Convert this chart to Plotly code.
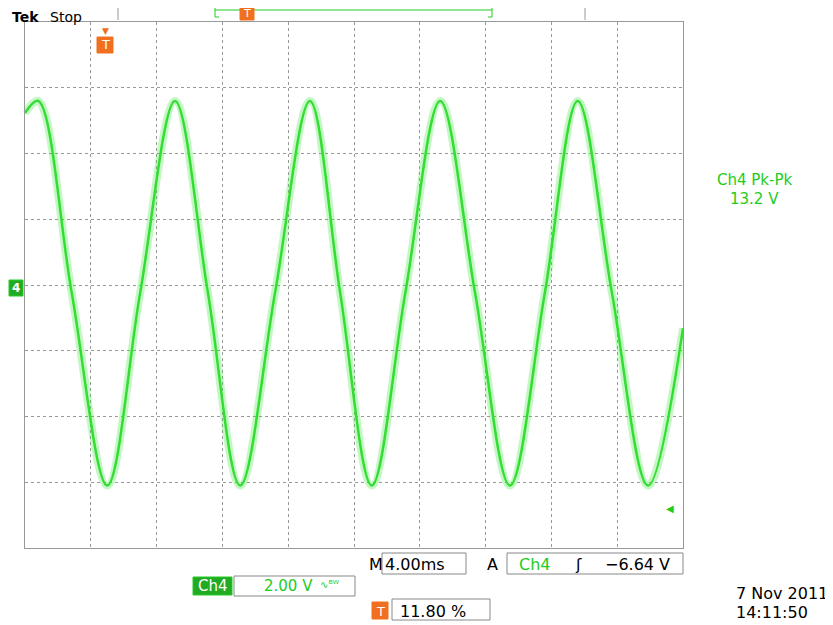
import plotly.graph_objects as go

# waveform key points: time (divisions), volts
t_div = [0, 0.2, 0.71, 1.25, 1.75, 2.28, 2.78, 3.27, 3.80, 4.33, 4.79, 5.27, 5.78, 6.31, 6.84, 7.37, 7.90, 8.40, 8.92, 9.47, 10.0]
volts = [5.23, 5.6, -0.24, -6.1, -0.24, 5.6, -0.24, -6.1, -0.24, 5.6, -0.24, -6.1, -0.24, 5.6, -0.24, -6.1, -0.24, 5.6, -0.24, -6.1, -1.31]

GREEN = "#22cc22"
ORANGE = "#f07020"
# plot area in screen pixels: 25..683 x 22..548 (page has 8px body margin)
PX0, PX1, PY0, PY1 = 25, 683, 22, 548
W, H = 825, 617

fig = go.Figure()
fig.add_trace(go.Scatter(x=t_div, y=volts, mode="lines", line=dict(color="rgba(60,230,60,0.3)", width=8, shape="spline", smoothing=1.0), hoverinfo="skip"))
fig.add_trace(go.Scatter(x=t_div, y=volts, mode="lines", line=dict(color="#33dd33", width=2.5, shape="spline", smoothing=1.0), hoverinfo="skip"))

ax = dict(showgrid=True, gridcolor="#999999", griddash="dot", gridwidth=1, zeroline=False,
          showticklabels=False, ticks="", showline=True, linecolor="#999999", mirror=True, fixedrange=True)
fig.update_xaxes(range=[0, 10], dtick=1, **ax)
fig.update_yaxes(range=[-8, 8], dtick=2, **ax)

def px(x, y):
    return (x - PX0) / (PX1 - PX0), 1 - (y - PY0) / (PY1 - PY0)

shapes = []
def box(x0, y0, x1, y1, color="#888888", fill=None):
    a, b = px(x0, y1); c, d = px(x1, y0)
    shapes.append(dict(type="rect", xref="paper", yref="paper", x0=a, y0=b, x1=c, y1=d,
                       line=dict(color=color, width=1), fillcolor=fill or "rgba(0,0,0,0)"))
def vline(x, y0, y1, color="#999999"):
    a, b = px(x, y0); _, d = px(x, y1)
    shapes.append(dict(type="line", xref="paper", yref="paper", x0=a, x1=a, y0=b, y1=d, line=dict(color=color, width=1)))
def hline(x0, x1, y, color):
    a, b = px(x0, y); c, _ = px(x1, y)
    shapes.append(dict(type="line", xref="paper", yref="paper", x0=a, x1=c, y0=b, y1=b, line=dict(color=color, width=1)))
# top bracket
hline(215, 492, 10, GREEN); vline(215, 4, 17, GREEN); vline(492, 4, 17, GREEN)
hline(215, 219, 4, GREEN); hline(215, 219, 17, GREEN); hline(488, 492, 4, GREEN); hline(488, 492, 17, GREEN)
vline(118, 0, 20); vline(585, 0, 20)
# bottom boxes
box(382, 553, 466, 574); box(507, 553, 683, 574)
box(234, 576, 355, 596); box(392, 599, 490, 620)
box(193, 577, 232, 595, color=GREEN, fill="#22aa22")
box(372, 602, 388, 619, color=ORANGE, fill=ORANGE)
box(240, 6, 254, 20, color=ORANGE, fill=ORANGE)
box(97, 37, 113, 53, color=ORANGE, fill=ORANGE)
box(9, 280, 23, 296, color=GREEN, fill="#22aa22")
fig.update_layout(shapes=shapes)

def txt(x, y, s, color="black", size=15, anchor="left", fam="DejaVu Sans"):
    a, b = px(x, y)
    fig.add_annotation(x=a, y=b, xref="paper", yref="paper", text=s, showarrow=False,
                       xanchor=anchor, yanchor="middle", font=dict(color=color, size=size, family=fam))
txt(10, 17, "<b>Tek</b>", size=14)
txt(48, 17, "Stop", size=14)
txt(247, 13, "T", "white", 11, "center")
txt(105, 45, "T", "white", 13, "center")
txt(105, 31, "▼", ORANGE, 9, "center")
txt(16, 288, "<b>4</b>", "white", 12, "center")
txt(755, 180, "Ch4 Pk-Pk", GREEN, 15, "center")
txt(755, 199, "13.2 V", GREEN, 15, "center")
txt(670, 508, "◀", GREEN, 10, "center")
txt(367, 564, "M", size=16); txt(383, 564, "4.00ms", size=16)
txt(485, 564, "A", size=16); txt(517, 564, "Ch4", GREEN, 16)
txt(573, 564, "ʃ", size=16); txt(603, 564, "−6.64 V", size=16)
txt(196, 586, "Ch4", "white", 15)
txt(262, 586, "2.00 V", GREEN, 15)
txt(318, 584, "∿ᴮᵂ", GREEN, 10)
txt(380, 611, "T", "white", 13, "center")
txt(398, 611, "11.80 %", size=16)
txt(830, 593, "7 Nov 2011", size=16, anchor="right")
txt(810, 612, "14:11:50", size=16, anchor="right")

fig.update_layout(width=W, height=H, margin=dict(l=PX0 - 8, r=W + 8 - PX1, t=PY0 - 8, b=H + 8 - PY1),
                  showlegend=False, paper_bgcolor="white", plot_bgcolor="white")
fig.write_html("out.html")
